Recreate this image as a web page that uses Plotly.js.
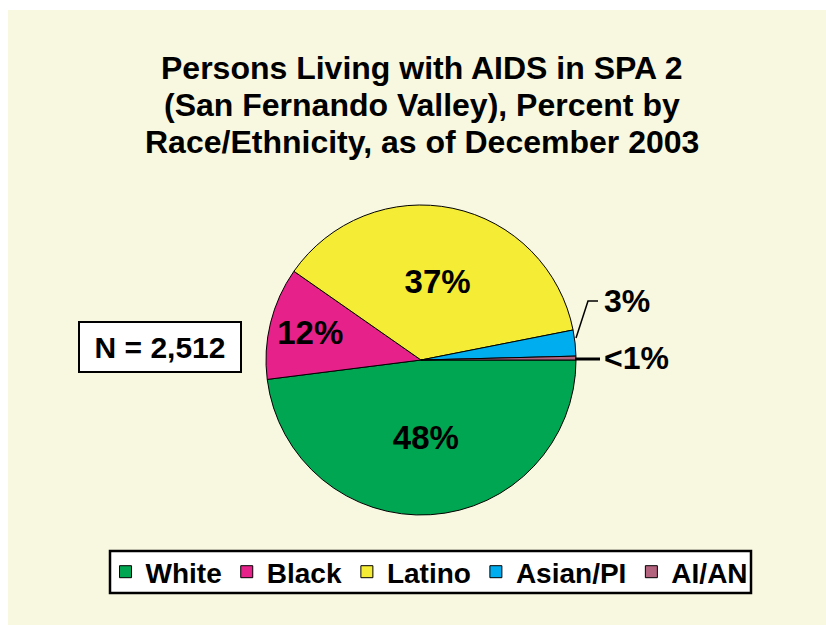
<!DOCTYPE html>
<html>
<head>
<meta charset="utf-8">
<script src="https://cdn.plot.ly/plotly-3.0.1.min.js"></script>
<style>html,body{margin:0;padding:0;background:#fff;}#chart{width:826px;height:625px;}</style>
</head>
<body>
<div id="chart"></div>
<script>
// Data
var categories = ['White', 'Black', 'Latino', 'Asian/PI', 'AI/AN'];
var percentValues = [48.0, 11.7, 37.2, 2.7, 0.4];
var labelText = ['48%', '12%', '37%', '3%', '<1%'];
var sliceColors = ['#00A651', '#E6228A', '#F4EC35', '#00AEEF', '#B4637F'];
var totalCases = 'N = 2,512';
var titleLines = ['Persons Living with AIDS in SPA 2', '(San Fernando Valley), Percent by', 'Race/Ethnicity, as of December 2003'];

var W = 826, H = 625;
function px(x) { return x / W; }
function py(y) { return 1 - y / H; }

var FONT = 'Liberation Sans, Arial, Helvetica, sans-serif';
var cx = 421, cy = 360, r = 155;

var insideText = labelText.map(function (t, i) { return i < 3 ? t : ''; });

var trace = {
  type: 'pie',
  labels: categories,
  values: percentValues,
  text: insideText,
  textinfo: 'text',
  textposition: 'inside',
  insidetextorientation: 'horizontal',
  sort: false,
  direction: 'clockwise',
  rotation: 90,
  marker: { colors: sliceColors, line: { color: '#000', width: 1 } },
  textfont: { family: FONT, size: 33, color: '#000', weight: 'bold' },
  domain: { x: [px(cx - r), px(cx + r)], y: [py(cy + r), py(cy - r)] },
  hoverinfo: 'label+percent'
};

var titleY = [68, 105, 142];
var annotations = titleLines.map(function (line, i) {
  return { xref: 'paper', yref: 'paper', x: px(422), y: py(titleY[i]), xanchor: 'center', yanchor: 'middle',
    text: '<b>' + line + '</b>', showarrow: false, font: { family: FONT, size: 32, color: '#000' } };
});
annotations.push(
  { xref: 'paper', yref: 'paper', x: px(160), y: py(347), xanchor: 'center', yanchor: 'middle',
    text: '<b>' + totalCases + '</b>', showarrow: false, width: 150, height: 38,
    font: { family: FONT, size: 30, color: '#000' },
    bgcolor: '#ffffff', bordercolor: '#000', borderwidth: 2, borderpad: 5 },
  { xref: 'paper', yref: 'paper', x: px(602), y: py(301), xanchor: 'left', yanchor: 'middle',
    text: '<b>' + labelText[3] + '</b>', showarrow: false,
    font: { family: FONT, size: 32, color: '#000' } },
  { xref: 'paper', yref: 'paper', x: px(602), y: py(358), xanchor: 'left', yanchor: 'middle',
    text: '<b>' + labelText[4] + '</b>', showarrow: false,
    font: { family: FONT, size: 32, color: '#000' } }
);

var layout = {
  width: W, height: H,
  margin: { l: 0, r: 0, t: 0, b: 0 },
  paper_bgcolor: '#ffffff',
  font: { family: FONT, color: '#000' },
  showlegend: true,
  legend: {
    orientation: 'h',
    x: 0.52, xanchor: 'center',
    y: py(572), yanchor: 'middle',
    bgcolor: 'rgba(0,0,0,0)', borderwidth: 0,
    font: { family: FONT, size: 28, color: '#000', weight: 'bold' },
    itemwidth: 30, tracegroupgap: 0
  },
  shapes: [
    { type: 'rect', xref: 'paper', yref: 'paper', x0: px(8), x1: 1, y0: 0, y1: py(10),
      fillcolor: '#F8F7E0', line: { width: 0 }, layer: 'below' },
    { type: 'rect', xref: 'paper', yref: 'paper', x0: px(110), x1: px(751), y0: py(593), y1: py(551),
      fillcolor: '#ffffff', line: { color: '#000', width: 2.5 }, layer: 'below' },
    { type: 'path', xref: 'paper', yref: 'paper',
      path: 'M' + px(576) + ',' + py(338) + ' L' + px(588) + ',' + py(301) + ' L' + px(598) + ',' + py(301),
      line: { color: '#000', width: 1.5 } },
    { type: 'line', xref: 'paper', yref: 'paper', x0: px(575), x1: px(600), y0: py(359), y1: py(359),
      line: { color: '#000', width: 3 } }
  ],
  annotations: annotations
};

Plotly.newPlot('chart', [trace], layout, { displayModeBar: false, staticPlot: true });
</script>
</body>
</html>
